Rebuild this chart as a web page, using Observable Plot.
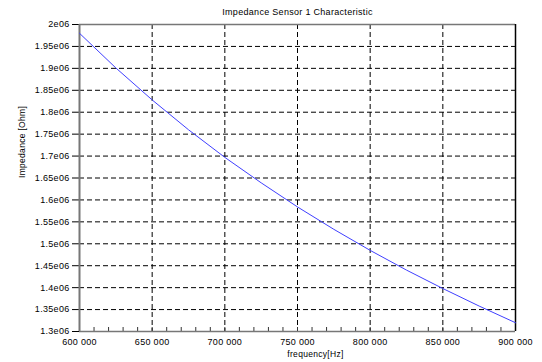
<!DOCTYPE html>
<html>
<head>
<meta charset="utf-8">
<script src="https://cdn.jsdelivr.net/npm/d3@7"></script>
<script src="https://cdn.jsdelivr.net/npm/@observablehq/plot@0.6"></script>
<style>
  html, body { margin: 0; padding: 0; background: #fff; }
</style>
</head>
<body>
<div id="chart"></div>
<script>
// Data
const frequency = [600000, 625000, 650000, 675000, 700000, 725000, 750000, 775000, 800000, 825000, 850000, 875000, 900000];
const impedance = [1980000, 1901000, 1828000, 1760000, 1697000, 1639000, 1584000, 1533000, 1485000, 1440000, 1398000, 1358000, 1320000];

const xTicks = [600000, 650000, 700000, 750000, 800000, 850000, 900000];
const xMinorTicks = d3.range(600000, 900001, 10000);
const yTicks = [1300000, 1350000, 1400000, 1450000, 1500000, 1550000, 1600000, 1650000, 1700000, 1750000, 1800000, 1850000, 1900000, 1950000, 2000000];
const gridXValues = [650000, 700000, 750000, 800000, 850000];
const gridYValues = [1350000, 1400000, 1450000, 1500000, 1550000, 1600000, 1650000, 1700000, 1750000, 1800000, 1850000, 1900000, 1950000];

const titleText = "Impedance Sensor 1 Characteristic";
const xLabel = "frequency[Hz]";
const yLabel = "Impedance [Ohm]";

const data = frequency.map((f, i) => ({f, z: impedance[i]}));

const fmtX = d => d3.format(",")(d).replace(/,/g, " ");
const fmtY = d => {
  const m = d / 1e6;
  return (+m.toFixed(2)).toString() + "e06";
};

const chart = Plot.plot({
  width: 542,
  height: 362,
  marginTop: 24,
  marginLeft: 79,
  marginRight: 27,
  marginBottom: 31,
  style: {fontFamily: "'Liberation Sans', Arial, sans-serif", fontSize: "9px", color: "#000", background: "#fff"},
  x: {domain: [600000, 900000]},
  y: {domain: [1300000, 2000000]},
  marks: [
    Plot.gridX(gridXValues, {stroke: "#000", strokeOpacity: 1, strokeDasharray: "5,3", strokeWidth: 1}),
    Plot.gridY(gridYValues, {stroke: "#000", strokeOpacity: 1, strokeDasharray: "5,3", strokeWidth: 1}),
    Plot.axisY(yTicks, {anchor: "left", tickSize: 7, tickPadding: 3, tickFormat: fmtY, stroke: "#000", label: null, fontSize: 9}),
    Plot.axisX(xTicks, {anchor: "bottom", tickSize: 0, tickPadding: 7, tickFormat: fmtX, label: null, fontSize: 9}),
    Plot.axisX(xMinorTicks, {anchor: "bottom", tickSize: -4, tickFormat: () => "", label: null, stroke: "#333"}),
    Plot.ruleY([2000000], {stroke: "#777", strokeWidth: 1.5}),
    Plot.ruleX([900000], {stroke: "#000", strokeWidth: 1.5}),
    Plot.ruleX([600000], {stroke: "#777", strokeWidth: 2}),
    Plot.ruleY([1300000], {stroke: "#777", strokeWidth: 1.5}),
    Plot.line(data, {x: "f", y: "z", stroke: "#4040ff", strokeWidth: 1}),
    Plot.text([titleText], {frameAnchor: "top", dy: -16, fontSize: 9, fill: "#000", text: d => d}),
    Plot.text([xLabel], {frameAnchor: "bottom", dx: 18, dy: 25, fontSize: 8.5, fill: "#000", text: d => d}),
    Plot.text([yLabel], {frameAnchor: "left", dx: -57, rotate: -90, fontSize: 8.5, fill: "#000", text: d => d})
  ]
});
chart.querySelectorAll("text").forEach(t => t.style.letterSpacing = "0.3px");
document.getElementById("chart").appendChild(chart);
</script>
</body>
</html>
